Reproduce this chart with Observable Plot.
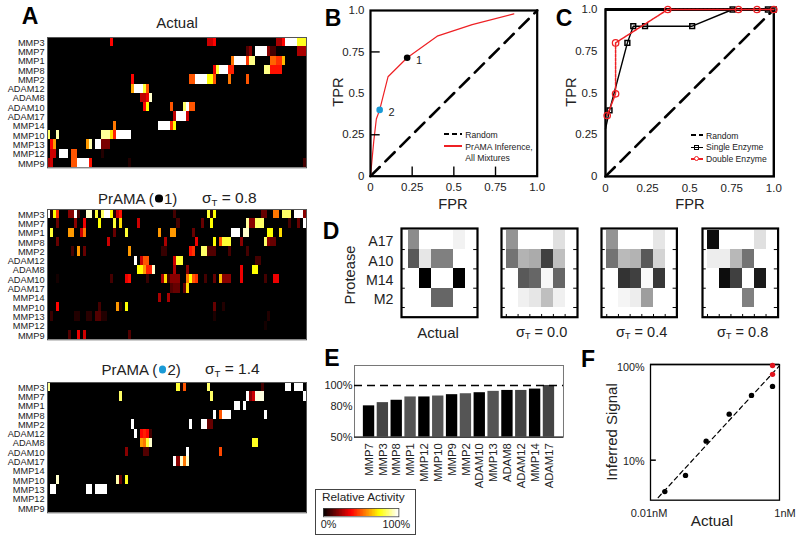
<!DOCTYPE html>
<html><head><meta charset="utf-8">
<script src="https://cdn.jsdelivr.net/npm/d3@7"></script>
<script src="https://cdn.jsdelivr.net/npm/@observablehq/plot@0.6"></script>
<style>
html,body{margin:0;padding:0;background:#fff}
#page{position:relative;width:800px;height:538px;overflow:hidden;font-family:"Liberation Sans",Arial,sans-serif;color:#222}
#page svg{position:absolute;background:transparent;overflow:visible}
.t{position:absolute;white-space:nowrap;line-height:1}
.t sub{font-size:.62em;vertical-align:-.25em;line-height:0}
.k{position:absolute}
.dot{display:inline-block;width:.48em;height:.48em;border-radius:50%;vertical-align:.1em;margin:0 .1em}
</style></head><body><div id="page"></div>
<script>
// ---------- DATA ----------
const proteases = ["MMP3","MMP7","MMP1","MMP8","MMP2","ADAM12","ADAM8","ADAM10","ADAM17","MMP14","MMP10","MMP13","MMP12","MMP9"];
const nMixtures = 86;
// each row: runs of [first mixture, value, value, ...]
const actualRuns = [
 [[21,.38],[53,.3,.3,.38],[76,.25,.25,.38,1,1,1,1,.78,.78,.78]],
 [[66,.12,.2],[69,1,1,1,1,.2,.1,.1],[83,.25,.25,.25]],
 [[61,.55,1,1,1,1,.45,.88,.88],[74,.52,.52,.45,.45,.65]],
 [[55,.35,.8,1,1,1,.42,.42],[72,.88,.88,.4,.4,.4,.4]],
 [[28,.38],[47,.5,.5,1,1,1,1,.75,.75,.5],[60,.55],[66,.5]],
 [[28,.62,1,1,1,.8,.5]],
 [[31,.28,.28,.35,.95]],
 [[32,.38,.75],[41,.5],[45,.85,1,.5,.5]],
 [[42,.28,1,1,1,.3]],
 [[22,.55],[37,1,1,1,1,.45,.75]],
 [[0,.85],[3,.92],[18,.9,.9,.9,.7,.42,1,1,1,1,1]],
 [[1,.38,.6],[13,.6,.92],[16,1,1,.18,.18,.18]],
 [[1,.3,.3],[4,1,1,1],[8,.5,.5],[18,.05]],
 [[0,.25,.3],[8,.5,.5,1,1,1,1,.4],[27,.05],[85,.1]]
];
const sigma08Runs = [
 [[0,1,.05,.75,.45],[7,.2,.2,1,.1],[13,.95,.95],[16,.8],[18,.85,1,1,.75,.05,.3,.4],[42,.1],[53,.8,.05,.75],[71,.15,.15],[75,.55,.55],[78,.85,.85,.85],[82,1,1,1,.2]],
 [[3,.15],[9,.2],[12,.35],[17,.75],[22,.8],[24,.7],[30,.3],[43,.1],[51,.15],[54,.75],[66,.9,.2,.2,.85,.85,.85],[80,.1],[83,.15],[85,1]],
 [[1,.8],[7,.6,.6],[11,.3,.55],[22,.15],[26,.8],[37,.6],[41,.6,.6],[48,.15],[61,1,1,1],[65,.95,.95],[73,.75,.75],[77,.7]],
 [[3,.15],[20,.3],[39,.25],[49,.35],[55,.75],[57,.5,.8,.8,.8],[64,.2],[72,.85,.2,.15,.15]],
 [[8,.1],[10,.6],[12,.15],[27,.6],[38,.08,.08],[47,.4,.45],[51,.85,.85,.12,.12,.12],[60,.1],[66,.1]],
 [[29,1],[31,.3,.5,.5],[42,.3,.8,.8],[69,.1,.1]],
 [[30,.75,.75,.6,.42,.42,.95],[42,.25],[46,.2],[64,.35],[68,.75,.75]],
 [[3,.03],[21,.1],[26,.35],[27,.4],[33,.08],[38,.25,.7,.1,.2,.2,.2],[46,.55,.75,.5,.45],[52,.1],[55,.15],[57,.65,.2,.2,.2],[64,.35],[72,.1],[75,.35,.35]],
 [[41,.12,.15,.15],[45,.15,.7]],
 [[37,.25],[40,.25]],
 [[3,.38],[17,.1],[23,.6,.05],[26,.75],[55,.15],[58,.05]],
 [[1,.08],[9,.05,.05],[13,.06,.06],[16,.12,.12,.05,.05],[55,.04],[73,.05]],
 [[72,.03]],
 [[7,.12],[10,.35],[12,.3],[27,.12]]
];
const sigma14Runs = [
 [[0,.9],[43,.8,.03,.5],[53,.85],[71,.1],[79,1,1],[82,1,1,1]],
 [[24,.85],[54,.85],[66,1,.2,.3,.97,.97,.97],[85,1]],
 [[62,1,1],[65,1]],
 [[55,1],[57,.5,1,1,1],[72,1]],
 [[28,1],[47,1],[51,1,1,.15,.15]],
 [[29,1],[31,.38,.42,.38,.1]],
 [[31,.6,.55,.8,.95],[68,.78,.78]],
 [[26,.2],[32,.12,.12],[46,1],[57,.48]],
 [[42,1,.2,.95,.55,.95]],
 [],
 [[3,.95],[23,.92,.15],[26,.78]],
 [[1,1,1],[13,1,1],[16,1,1,1,1]],
 [],[]
];

const rocFPR = [0,.02,.035,.055,.105,.22,.4,.61,.86];
const rocTPR = [0,.215,.345,.4,.6,.715,.845,.915,.98];
const rocPoints = [{fpr:.22,tpr:.715,c:"#000",n:"1"},{fpr:.055,tpr:.4,c:"#1a9ad6",n:"2"}];
const singleFPR = [0,.024,.13,.165,.235,.515,.755,.965,1];
const singleTPR = [.285,.395,.8,.9,.9,.9,1,1,1];
const doubleFPR = [.01,.06,.06,.37,.79,.9,1];
const doubleTPR = [.365,.495,.8,1,1,1,1];
const diagonal = [0,1];
const axisFractions = [0,.25,.5,.75,1];
const axisFractionLabels = ["0","0.25","0.5","0.75","1.0"];

const dRows = ["A17","A10","M14","M2"];
const dActual = [[.45,0,0,0,.05],[.65,.1,.5,.5,0],[0,1,0,0,1],[0,0,.6,.6,0]];
const dS00 = [[.42,0,0,0,.12],[.55,.3,.33,.75,.25],[0,.65,.6,.03,.6],[0,.06,.1,.25,.06]];
const dS04 = [[.42,0,0,0,.1],[.55,.27,.3,.65,.17],[0,.8,.75,.02,.78],[0,.04,.07,.38,0]];
const dS08 = [[.95,0,0,0,.12],[.07,.07,.28,.55,0],[0,.95,.75,0,.9],[0,0,0,.5,0]];

const eNames = ["MMP7","MMP3","MMP8","MMP1","MMP12","MMP10","MMP9","MMP2","ADAM10","MMP13","ADAM8","ADAM12","MMP14","ADAM17"];
const eValues = [80.3,83.4,85.7,88.9,88.9,89.8,91.1,92,93,94.3,95.2,95.2,96.5,100];
const eShades = ["#000","#444","#000","#555","#000","#555","#000","#555","#000","#555","#000","#444","#000","#444"];

const fActual = [.01667,.0349,.0729,.166,.368,.78];
const fInferred = [4.65,6.9,15.9,30.7,48.5,60.4];
const fRedActual = [.78,.78];
const fRedInferred = [81,100.7];
const fLineActual = [.01315,1];
const fLineInferred = [4.02,100];

const hotStops = [0,.375,.75,1];
const hotColors = ["#000000","#ff0000","#ffff00","#ffffff"];
const legendSteps = d3.range(0,1.001,.01);

// ---------- HELPERS ----------
const page = document.getElementById("page");
const FONT = '"Liberation Sans",Arial,sans-serif';
function place(x,y,w,h,m,opts){
  const svg = Plot.plot({width:w+m[3]+m[1],height:h+m[0]+m[2],marginTop:m[0],marginRight:m[1],marginBottom:m[2],marginLeft:m[3],
    style:{fontFamily:FONT,color:"#222",background:"transparent",overflow:"visible"},...opts});
  svg.style.left=(x-m[3])+"px"; svg.style.top=(y-m[0])+"px";
  page.appendChild(svg);
}
function label(html,x,y,size,o={}){
  const d=document.createElement("div"); d.className="t"; d.innerHTML=html;
  const ax=o.anchor==="start"?"0":o.anchor==="end"?"-100%":"-50%";
  d.style.cssText=`left:${x}px;top:${y}px;font-size:${size}px;font-weight:${o.weight||"normal"};color:${o.color||"#222"};transform:translate(${ax},-50%)${o.rotate?` rotate(${o.rotate}deg)`:""};`;
  page.appendChild(d);
}
function key(x,y,w,css){
  const d=document.createElement("div"); d.className="k";
  d.style.cssText=`left:${x}px;top:${y}px;width:${w}px;${css}`; page.appendChild(d);
}
const dashKey=(x,y,w)=>key(x,y-.75,w,"height:1.5px;background:repeating-linear-gradient(90deg,#000 0 5px,transparent 5px 8px)");

function heat(runs,top){
  const cells=[];
  runs.forEach((row,r)=>{
    const vals=new Array(nMixtures).fill(0);
    row.forEach(run=>run.slice(1).forEach((v,i)=>{if(run[0]+i<nMixtures)vals[run[0]+i]=v;}));
    vals.forEach((v,c)=>cells.push({c,p:proteases[r],v}));
  });
  place(47,top,259,130.3,[1,1,1,47],{
    x:{type:"band",domain:d3.range(nMixtures),padding:0,round:false,axis:null},
    y:{type:"band",domain:proteases,padding:0,round:false,axis:null},
    color:{type:"linear",domain:hotStops,range:hotColors},
    marks:[
      Plot.cell(cells,{x:"c",y:"p",fill:"v",shapeRendering:"crispEdges"}),
      Plot.frame({stroke:"#555",strokeWidth:1}),
      Plot.axisY({label:null,tickSize:0,tickPadding:3,fontSize:9.2,dy:.5})
    ]
  });
}

// ---------- PANEL A ----------
label("A",30,16,23,{weight:"bold",color:"#000"});
label("Actual",177,22,15);
heat(actualRuns,36.7);
label('PrAMA (<span class="dot" style="background:#000"></span>1)',98,198,15,{anchor:"start"});
label('σ<sub>T</sub> = 0.8',202,198,15.5,{anchor:"start"});
heat(sigma08Runs,209);
label('PrAMA (<span class="dot" style="background:#1a9ad6"></span>2)',101.5,369,15,{anchor:"start"});
label('σ<sub>T</sub> = 1.4',205,369,15.5,{anchor:"start"});
heat(sigma14Runs,382.3);

// ---------- PANEL B ----------
const unitScales={x:{domain:[0,1],axis:null},y:{domain:[0,1],axis:null}};
label("B",333,18,23,{weight:"bold",color:"#000"});
place(370,10,166.7,165.7,[4,6,14,50],{
  ...unitScales,
  marks:[
    Plot.line(diagonal.map(d=>({d})),{x:"d",y:"d",stroke:"#000",strokeWidth:2.6,strokeDasharray:"13,8"}),
    Plot.line(rocFPR.map((f,i)=>({f,t:rocTPR[i]})),{x:"f",y:"t",stroke:"#ee2024",strokeWidth:1.2}),
    Plot.dot(rocPoints,{x:"fpr",y:"tpr",fill:"c",r:3.3}),
    Plot.text(rocPoints,{x:"fpr",y:"tpr",text:"n",dx:12,dy:3,fontSize:11,fill:"#222"}),
    Plot.ruleY([.25,.75],{x1:0,x2:.058,stroke:"#000",strokeWidth:1.4}),
    Plot.ruleX([.25,.5,.75],{y1:0,y2:.055,stroke:"#000",strokeWidth:1.4}),
    Plot.frame({stroke:"#000",strokeWidth:2.2}),
    Plot.axisY({ticks:axisFractions,tickFormat:(d,i)=>axisFractionLabels[i],label:null,tickSize:0,tickPadding:6,fontSize:11.5}),
    Plot.axisX({ticks:axisFractions,tickFormat:(d,i)=>axisFractionLabels[i],label:null,tickSize:0,tickPadding:7,fontSize:11.5})
  ]
});
label("FPR",453,204,14.7);
label("TPR",338,92,14.7,{rotate:-90});
dashKey(444,134,18);
label("Random",465.3,135,8.6,{anchor:"start"});
key(444,145,18,"height:1.8px;background:#ee2024");
label("PrAMA Inference,",465.3,147.3,8.6,{anchor:"start"});
label("All Mixtures",465.3,157.7,8.6,{anchor:"start"});

// ---------- PANEL C ----------
label("C",564,18,23,{weight:"bold",color:"#000"});
const singleRows=singleFPR.map((f,i)=>({f,t:singleTPR[i]}));
const doubleRows=doubleFPR.map((f,i)=>({f,t:doubleTPR[i]}));
place(605,8.8,168.3,166.9,[4,6,14,50],{
  ...unitScales,
  marks:[
    Plot.line(diagonal.map(d=>({d})),{x:"d",y:"d",stroke:"#000",strokeWidth:2.6,strokeDasharray:"13,8"}),
    Plot.frame({stroke:"#000",strokeWidth:2.4}),
    Plot.ruleY([1],{stroke:"#000",strokeWidth:2.8}),
    Plot.line(singleRows,{x:"f",y:"t",stroke:"#000",strokeWidth:1.4}),
    Plot.dot(singleRows.filter(d=>d.f>0),{x:"f",y:"t",symbol:"square",stroke:"#000",strokeWidth:1.5,fill:"none",r:2.7}),
    Plot.line(doubleRows,{x:"f",y:"t",stroke:"#ee2024",strokeWidth:1.5,strokeDasharray:"3,1"}),
    Plot.dot(doubleRows,{x:"f",y:"t",stroke:"#ee2024",strokeWidth:1.3,fill:"none",r:3.2}),
    Plot.axisY({ticks:axisFractions,tickFormat:(d,i)=>axisFractionLabels[i],label:null,tickSize:0,tickPadding:8,fontSize:11.5}),
    Plot.axisX({ticks:axisFractions,tickFormat:(d,i)=>axisFractionLabels[i],label:null,tickSize:0,tickPadding:7,fontSize:11.5})
  ]
});
label("FPR",690,204,14.7);
label("TPR",571,92,14.7,{rotate:-90});
dashKey(690.7,135,12);
label("Random",706,135.7,8.6,{anchor:"start"});
key(690.5,146.7,12,"height:1.3px;background:#000");
key(694,144.8,3,"height:3px;border:1.2px solid #000;");
label("Single Enzyme",706,147.3,8.6,{anchor:"start"});
key(690.5,158.4,12,"height:1.2px;background:#ee2024");
key(693.5,156,3,"height:3px;border:1.2px solid #ee2024;border-radius:50%;background:#fff");
label("Double Enzyme",706,159,8.6,{anchor:"start"});

// ---------- PANEL D ----------
label("D",331,231,23,{weight:"bold",color:"#000"});
function grid(mat,left,width,xDomain,showLabels,bottomTicks){
  const cells=[];
  mat.forEach((row,r)=>row.forEach((v,c)=>cells.push({c,r,v})));
  const rowEdges=[1,2,3,4], colEdges=[0,1,2,3,4,5];
  const colSpan=(xDomain[1]-xDomain[0])*.05;
  place(left,228.3,width,88.7,[2,3,6,55],{
    x:{domain:xDomain,axis:null},
    y:{domain:[4.5,-.09],axis:null},
    color:{type:"linear",domain:[0,1],range:["#ffffff","#000000"]},
    marks:[
      Plot.rect(cells,{x1:"c",x2:d=>d.c+1,y1:"r",y2:d=>d.r+1,fill:"v",shapeRendering:"crispEdges"}),
      Plot.ruleY(rowEdges,{x1:xDomain[0],x2:xDomain[0]+colSpan,stroke:"#000",strokeWidth:1}),
      Plot.ruleY(rowEdges,{x1:xDomain[1]-colSpan,x2:xDomain[1],stroke:"#000",strokeWidth:1}),
      bottomTicks?Plot.ruleX(colEdges,{y1:4.5,y2:4.36,stroke:"#000",strokeWidth:1}):null,
      Plot.frame({stroke:"#000",strokeWidth:2.2}),
      showLabels?Plot.axisY({ticks:[.5,1.5,2.5,3.5],tickFormat:(d,i)=>dRows[i],label:null,tickSize:0,tickPadding:8,fontSize:14.2,dy:2}):null
    ]
  });
}
grid(dActual,400.7,76,[-.62,6.1],true,false);
grid(dS00,501.3,76,[-.41,6.05],false,true);
grid(dS04,601.3,75.4,[-.45,6],false,true);
grid(dS08,701.7,75.6,[-.43,6.03],false,true);
label("Protease",350,275,14.7,{rotate:-90});
label("Actual",438,332,15);
label('σ<sub>T</sub> = 0.0',541.7,332,14.5);
label('σ<sub>T</sub> = 0.4',641.7,332,14.5);
label('σ<sub>T</sub> = 0.8',742.7,332,14.5);

// ---------- PANEL E ----------
label("E",332,358,23,{weight:"bold",color:"#000"});
const eRows=eNames.map((n,i)=>({n,v:eValues[i],s:eShades[i]}));
place(354.3,365,209,71.7,[1,2,50,46],{
  x:{type:"band",domain:eNames,paddingInner:.18,paddingOuter:.64,round:false,axis:null},
  y:{domain:[50,119.3],axis:null},
  marks:[
    Plot.barY(eRows,{x:"n",y1:50,y2:"v",fill:"s"}),
    Plot.frame({stroke:"#777",strokeWidth:1}),
    Plot.ruleY([100],{stroke:"#000",strokeWidth:1.6,strokeDasharray:"8,5"}),
    Plot.ruleY([50],{stroke:"#222",strokeWidth:1.2}),
    Plot.axisY({ticks:[50,80,100],tickFormat:d=>d+"%",label:null,tickSize:0,tickPadding:2,fontSize:11}),
    Plot.axisX({label:null,tickSize:0,tickRotate:-90,tickPadding:6,fontSize:11.3})
  ]
});
// colour legend
key(314.7,489,99.5,"height:43.5px;border:1.5px solid #444");
label("Relative Activity",322,498,11.8,{anchor:"start"});
place(323.3,507.7,75.4,8.3,[1,1,1,1],{
  x:{type:"band",domain:legendSteps,padding:0,round:false,axis:null},
  color:{type:"linear",domain:hotStops,range:hotColors},
  marks:[
    Plot.cell(legendSteps,{x:d=>d,fill:d=>d,shapeRendering:"crispEdges"}),
    Plot.frame({stroke:"#444",strokeWidth:.8})
  ]
});
label("0%",320.7,524,10.8,{anchor:"start"});
label("100%",410,524,10.8,{anchor:"end"});

// ---------- PANEL F ----------
label("F",588,359,23,{weight:"bold",color:"#000"});
place(649.7,364.3,129,135.7,[2,2,4,45],{
  x:{type:"log",domain:[.01,1],axis:null},
  y:{type:"log",domain:[3.77,103],axis:null},
  marks:[
    Plot.frame({stroke:"#000",strokeWidth:1.3}),
    Plot.ruleY([103],{stroke:"#000",strokeWidth:1.5}),
    Plot.ruleY([10],{x1:.01,x2:.0123,stroke:"#000",strokeWidth:1.5}),
    Plot.line(fLineActual.map((a,i)=>({a,b:fLineInferred[i]})),{x:"a",y:"b",stroke:"#000",strokeWidth:1.2,strokeDasharray:"4.5,3.5"}),
    Plot.dot(fActual.map((a,i)=>({a,b:fInferred[i]})),{x:"a",y:"b",fill:"#000",r:2.7}),
    Plot.dot(fRedActual.map((a,i)=>({a,b:fRedInferred[i]})),{x:"a",y:"b",fill:"#e0141e",r:2.7}),
    Plot.axisY({ticks:[10,100],tickFormat:d=>d+"%",label:null,tickSize:0,tickPadding:6,fontSize:10.8,dy:1.5})
  ]
});
label("0.01nM",649,512.7,11);
label("1nM",785,512.7,11);
label("Actual",712,520.7,15.3);
label("Inferred Signal",611,432,15,{rotate:-90});
</script></body></html>
